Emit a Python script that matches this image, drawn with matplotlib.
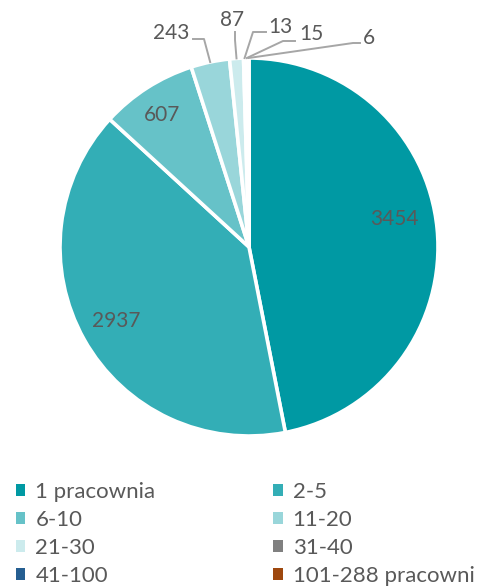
import numpy as np
import matplotlib.pyplot as plt
from matplotlib.patches import Patch
from matplotlib.lines import Line2D

plt.rcParams['font.family'] = ['Lato', 'DejaVu Sans']

# -- data --
categories = ['1 pracownia', '2-5', '6-10', '11-20', '21-30', '31-40', '41-100', '101-288 pracowni']
values = [3454, 2937, 607, 243, 87, 13, 15, 6]
colors = ['#0099A3', '#33AEB6', '#66C2C8', '#99D6DA', '#CCEBED', '#808080', '#255E91', '#9E480E']

txt_color = '#595959'
line_color = '#A6A6A6'
fs = 15

fig = plt.figure(figsize=(4.78, 5.88), dpi=100)
# pie centre at (249, 247) px, radius 189 px
cx, cy, r = 249, 588 - 247, 189
ax = fig.add_axes([(cx - r) / 478, (cy - r) / 588, 2 * r / 478, 2 * r / 588])

wedges, _ = ax.pie(values, colors=colors, startangle=90, counterclock=False,
                   radius=1, wedgeprops=dict(edgecolor='white', linewidth=2.6))
ax.set_xlim(-1, 1)
ax.set_ylim(-1, 1)
ax.set_aspect('equal')
ax.axis('off')

def mid_angle(w):
    return np.deg2rad((w.theta1 + w.theta2) / 2)

def px(x, y):
    # pixel position (from top-left) -> data coords
    return ((x - 249) / r, (247 - y) / r)

# inside labels
inside = {0: px(394, 219), 1: px(116, 321), 2: px(162, 115)}
for i, (x, y) in inside.items():
    ax.text(x, y, str(values[i]), ha='center', va='center', fontsize=fs, color=txt_color)

# outside labels: (elbow point, end point, text point, ha)
outside = {
    3: (px(204, 39), px(193, 39), px(189, 33), 'right'),
    4: (px(235, 40), px(235, 32), px(232, 20), 'center'),
    5: (px(253, 32), px(266, 32), px(268, 27), 'left'),
    6: (px(283, 41), px(295, 41), px(299, 34), 'left'),
    7: (px(353, 43), px(360, 43), px(363, 38), 'left'),
}
for i, (e1, e2, t, ha) in outside.items():
    a = mid_angle(wedges[i])
    sx, sy = np.cos(a), np.sin(a)
    ax.add_line(Line2D([sx, e1[0], e2[0]], [sy, e1[1], e2[1]], color=line_color,
                       lw=1.4, clip_on=False))
    ax.text(t[0], t[1], str(values[i]), ha=ha, va='center', fontsize=fs,
            color=txt_color, clip_on=False)

# legend, row-wise order in two columns
handles = [Patch(facecolor=c, edgecolor='none') for c in colors]
order = [0, 2, 4, 6, 1, 3, 5, 7]
fig.legend([handles[i] for i in order], [categories[i] for i in order],
           ncol=2, loc='upper left', bbox_to_anchor=(16 / 478, 1 - 482 / 588),
           frameon=False, fontsize=16, labelcolor=txt_color,
           handlelength=0.42, handleheight=0.42, handletextpad=0.45,
           labelspacing=0.36, columnspacing=5.3, borderaxespad=0, borderpad=0)

fig.savefig('out.png', dpi=100)
